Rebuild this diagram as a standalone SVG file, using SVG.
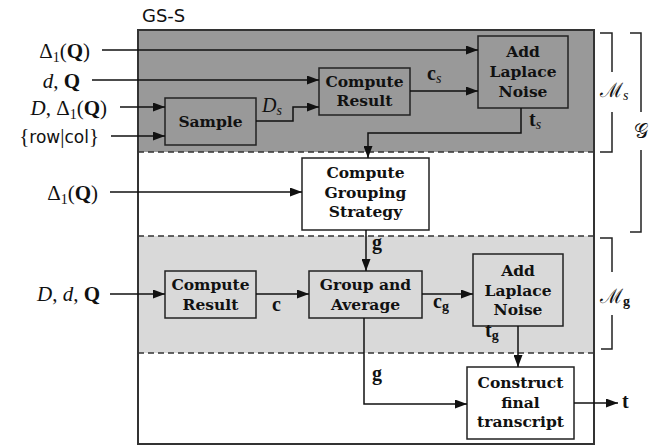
<svg xmlns="http://www.w3.org/2000/svg" width="672" height="446" viewBox="0 0 672 446">
<style>
.box{stroke:#222;stroke-width:1.5}
.bt{font-family:"DejaVu Serif",serif;font-weight:bold;font-size:15.5px;fill:#111;text-anchor:middle}
.m{font-family:"Liberation Serif","DejaVu Serif",serif;font-size:21px;fill:#111}
.ms{font-family:"Liberation Serif","DejaVu Serif",serif;font-size:20px;fill:#111}
.it{font-style:italic}
.bf{font-weight:bold}
.sub{font-size:14px}
.sf{font-family:"DejaVu Sans",sans-serif}
.conn{fill:none;stroke:#111;stroke-width:1.5}
.dash{stroke:#333;stroke-width:1.5;stroke-dasharray:6,4}
.br{fill:none;stroke:#222;stroke-width:1.5}
</style>
<defs>
<marker id="ah" markerUnits="userSpaceOnUse" markerWidth="13" markerHeight="9" refX="12" refY="4.5" orient="auto">
<path d="M0,0 L12,4.5 L0,9 z" fill="#111"/>
</marker>
</defs>

<g id="regions">
<rect x="138" y="30" width="456" height="122" fill="#999999"/>
<rect x="138" y="152" width="456" height="84" fill="#ffffff"/>
<rect x="138" y="236" width="456" height="117" fill="#d9d9d9"/>
<rect x="138" y="353" width="456" height="91" fill="#ffffff"/>
<line class="dash" x1="138" y1="152" x2="594" y2="152"/>
<line class="dash" x1="138" y1="236" x2="594" y2="236"/>
<line class="dash" x1="138" y1="353" x2="594" y2="353"/>
<rect x="138" y="30" width="456" height="414" fill="none" stroke="#333" stroke-width="2"/>
<text x="142" y="22" font-family="DejaVu Sans,sans-serif" font-size="18" fill="#111">GS-S</text>
</g>

<g id="sample">
<rect class="box" x="165" y="98" width="91" height="47" fill="#999999"/>
<text class="bt" x="210.5" y="126.5">Sample</text>
</g>
<g id="compute-result-s">
<rect class="box" x="319" y="68" width="91" height="47" fill="#999999"/>
<text class="bt" x="364.5" y="87">Compute</text>
<text class="bt" x="364.5" y="106">Result</text>
</g>
<g id="add-laplace-s">
<rect class="box" x="478" y="36" width="90" height="72" fill="#999999"/>
<text class="bt" x="523" y="57">Add</text>
<text class="bt" x="523" y="77">Laplace</text>
<text class="bt" x="523" y="97">Noise</text>
</g>
<g id="grouping-strategy">
<rect class="box" x="302" y="158" width="127" height="72" fill="#ffffff"/>
<text class="bt" x="365.5" y="178">Compute</text>
<text class="bt" x="365.5" y="198">Grouping</text>
<text class="bt" x="365.5" y="217">Strategy</text>
</g>
<g id="compute-result-g">
<rect class="box" x="165" y="271" width="91" height="47" fill="#d9d9d9"/>
<text class="bt" x="210.5" y="290">Compute</text>
<text class="bt" x="210.5" y="310">Result</text>
</g>
<g id="group-average">
<rect class="box" x="309" y="271" width="113" height="47" fill="#d9d9d9"/>
<text class="bt" x="365.5" y="290">Group and</text>
<text class="bt" x="365.5" y="310">Average</text>
</g>
<g id="add-laplace-g">
<rect class="box" x="473" y="254" width="90" height="72" fill="#d9d9d9"/>
<text class="bt" x="518" y="276">Add</text>
<text class="bt" x="518" y="296">Laplace</text>
<text class="bt" x="518" y="315">Noise</text>
</g>
<g id="construct">
<rect class="box" x="467" y="367" width="107" height="72" fill="#ffffff"/>
<text class="bt" x="520.5" y="388">Construct</text>
<text class="bt" x="520.5" y="408">final</text>
<text class="bt" x="520.5" y="427">transcript</text>
</g>

<g id="connectors">
<path class="conn" marker-end="url(#ah)" d="M102,50 H478"/>
<path class="conn" marker-end="url(#ah)" d="M92,80 H319"/>
<path class="conn" marker-end="url(#ah)" d="M120,107 H165"/>
<path class="conn" marker-end="url(#ah)" d="M111,136 H165"/>
<path class="conn" marker-end="url(#ah)" d="M256,121 H293 V107 H319"/>
<path class="conn" marker-end="url(#ah)" d="M410,91 H478"/>
<path class="conn" marker-end="url(#ah)" d="M521,108 V133 H368 V158"/>
<path class="conn" marker-end="url(#ah)" d="M110,192 H302"/>
<path class="conn" marker-end="url(#ah)" d="M366,230 V271"/>
<path class="conn" marker-end="url(#ah)" d="M110,294 H165"/>
<path class="conn" marker-end="url(#ah)" d="M256,294 H309"/>
<path class="conn" marker-end="url(#ah)" d="M422,294 H473"/>
<path class="conn" marker-end="url(#ah)" d="M518,326 V367"/>
<path class="conn" marker-end="url(#ah)" d="M364,318 V404 H467"/>
<path class="conn" marker-end="url(#ah)" d="M574,403 H618"/>
</g>

<g id="brackets">
<path class="br" d="M600,33 H612 V72 M612,112 V152 H600"/>
<path class="br" d="M630,33 H641 V112 M641,150 V232 H630"/>
<path class="br" d="M600,238 H612 V272 M612,315 V349 H601"/>
<text class="ms" x="600" y="97">ℳ<tspan class="it sub" dy="3">s</tspan></text>
<text class="ms" x="634" y="138">𝒢</text>
<text class="ms" x="600" y="303">ℳ<tspan class="bf sub" dy="3">g</tspan></text>
</g>

<g id="labels">
<text class="m" x="90" y="58" text-anchor="end">Δ<tspan class="sub" dy="4">1</tspan><tspan dy="-4">(</tspan><tspan class="bf">Q</tspan>)</text>
<text class="m" x="80" y="88" text-anchor="end"><tspan class="it">d</tspan>, <tspan class="bf">Q</tspan></text>
<text class="m" x="107" y="115" text-anchor="end"><tspan class="it">D</tspan>, Δ<tspan class="sub" dy="4">1</tspan><tspan dy="-4">(</tspan><tspan class="bf">Q</tspan>)</text>
<text class="m" x="99" y="143" text-anchor="end">{<tspan class="sf" font-size="17">row</tspan>|<tspan class="sf" font-size="17">col</tspan>}</text>
<text class="m" x="98" y="200" text-anchor="end">Δ<tspan class="sub" dy="4">1</tspan><tspan dy="-4">(</tspan><tspan class="bf">Q</tspan>)</text>
<text class="m" x="100" y="301" text-anchor="end"><tspan class="it">D</tspan>, <tspan class="it">d</tspan>, <tspan class="bf">Q</tspan></text>
<text class="ms" x="262" y="112"><tspan class="it">D</tspan><tspan class="it sub" dy="3">s</tspan></text>
<text class="ms" x="427" y="80"><tspan class="bf">c</tspan><tspan class="it sub" dy="3">s</tspan></text>
<text class="ms" x="529" y="126"><tspan class="bf">t</tspan><tspan class="it sub" dy="3">s</tspan></text>
<text class="ms bf" x="372" y="249">g</text>
<text class="ms bf" x="272" y="311">c</text>
<text class="ms" x="433" y="308"><tspan class="bf">c</tspan><tspan class="bf sub" dy="3">g</tspan></text>
<text class="ms" x="485" y="337"><tspan class="bf">t</tspan><tspan class="bf sub" dy="3">g</tspan></text>
<text class="ms bf" x="372" y="380">g</text>
<text class="ms bf" x="622" y="408">t</text>
</g>
</svg>
